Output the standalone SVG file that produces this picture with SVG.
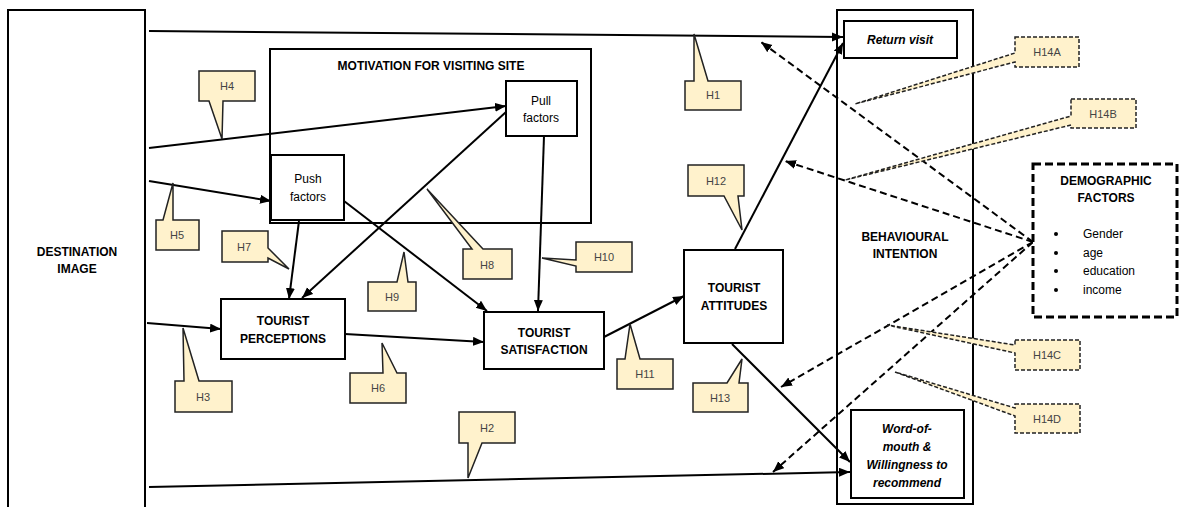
<svg xmlns="http://www.w3.org/2000/svg" width="1180" height="507" viewBox="0 0 1180 507">
  <defs>
    <marker id="arrow" markerUnits="userSpaceOnUse" markerWidth="12" markerHeight="10" refX="11" refY="4.5" orient="auto">
      <path d="M0,0 L11,4.5 L0,9 Z" fill="#000"/>
    </marker>
    <style>
      .box { fill: #fff; stroke: #000; stroke-width: 2; }
      .frame { fill: none; stroke: #000; stroke-width: 2; }
      .lbl { font-family: "Liberation Sans", Arial, sans-serif; font-size: 12px; font-weight: bold; fill: #000; text-anchor: middle; }
      .reg { font-family: "Liberation Sans", Arial, sans-serif; font-size: 12px; fill: #000; text-anchor: middle; }
      .ital { font-family: "Liberation Sans", Arial, sans-serif; font-size: 12px; font-weight: bold; font-style: italic; fill: #000; text-anchor: middle; }
      .link { fill: none; stroke: #000; stroke-width: 2; marker-end: url(#arrow); }
      .dlink { fill: none; stroke: #000; stroke-width: 2; stroke-dasharray: 7 4; marker-end: url(#arrow); }
      .call { fill: #fff2cc; stroke: #222; stroke-width: 1.5; stroke-linejoin: miter; }
      .dcall { fill: #fff2cc; stroke: #222; stroke-width: 1.5; stroke-dasharray: 4 2; }
      .htxt { font-family: "Liberation Sans", Arial, sans-serif; font-size: 11px; fill: #444; text-anchor: middle; }
    </style>
  </defs>
  <rect width="1180" height="507" fill="#fff"/>

  <!-- outer frames -->
  <g id="destination-image">
    <rect class="box" x="8" y="10" width="137" height="510"/>
    <text class="lbl" x="77" y="256">DESTINATION</text>
    <text class="lbl" x="77" y="273">IMAGE</text>
  </g>
  <g id="motivation">
    <rect class="frame" x="270" y="49" width="321" height="174"/>
    <text class="lbl" x="431" y="70">MOTIVATION FOR VISITING SITE</text>
  </g>
  <g id="behavioural-intention">
    <rect class="frame" x="837" y="10" width="136" height="494"/>
    <text class="lbl" x="905" y="241">BEHAVIOURAL</text>
    <text class="lbl" x="905" y="258">INTENTION</text>
  </g>

  <!-- connectors -->
  <g id="connectors">
    <path class="link" d="M149,31 L843,37"/>
    <path class="link" d="M149,148 L506,106"/>
    <path class="link" d="M149,181 L271,201"/>
    <path class="link" d="M147,323 L221,329"/>
    <path class="link" d="M149,487 L850,472"/>
    <path class="link" d="M299,221 L289,299"/>
    <path class="link" d="M506,112 L302,298"/>
    <path class="link" d="M344,201 L487,311"/>
    <path class="link" d="M544,136 L538,311"/>
    <path class="link" d="M345,334 L484,342"/>
    <path class="link" d="M604,337 L684,296"/>
    <path class="link" d="M735,249 L843,43"/>
    <path class="link" d="M732,344 L850,462"/>
    <path class="dlink" d="M1033,242 L761,42"/>
    <path class="dlink" d="M1033,242 L785,161"/>
    <path class="dlink" d="M1033,242 L781,387"/>
    <path class="dlink" d="M1033,242 L773,472"/>
  </g>

  <!-- nodes -->
  <g id="pull-factors">
    <rect class="box" x="506" y="81" width="71" height="55"/>
    <text class="reg" x="541" y="105">Pull</text>
    <text class="reg" x="541" y="122">factors</text>
  </g>
  <g id="push-factors">
    <rect class="box" x="271" y="155" width="73" height="65"/>
    <text class="reg" x="308" y="183">Push</text>
    <text class="reg" x="308" y="201">factors</text>
  </g>
  <g id="tourist-perceptions">
    <rect class="box" x="221" y="299" width="124" height="60"/>
    <text class="lbl" x="283" y="325">TOURIST</text>
    <text class="lbl" x="283" y="343">PERCEPTIONS</text>
  </g>
  <g id="tourist-satisfaction">
    <rect class="box" x="484" y="312" width="120" height="57"/>
    <text class="lbl" x="544" y="337">TOURIST</text>
    <text class="lbl" x="544" y="354">SATISFACTION</text>
  </g>
  <g id="tourist-attitudes">
    <rect class="box" x="684" y="250" width="99" height="93"/>
    <text class="lbl" x="734" y="292">TOURIST</text>
    <text class="lbl" x="734" y="310">ATTITUDES</text>
  </g>
  <g id="return-visit">
    <rect class="box" x="844" y="21" width="113" height="37" stroke-width="2.5"/>
    <text class="ital" x="900" y="44">Return visit</text>
  </g>
  <g id="word-of-mouth">
    <rect class="box" x="851" y="410" width="113" height="88" stroke-width="2.5"/>
    <text class="ital" x="907" y="433">Word-of-</text>
    <text class="ital" x="907" y="451">mouth &amp;</text>
    <text class="ital" x="907" y="469">Willingness to</text>
    <text class="ital" x="907" y="487">recommend</text>
  </g>
  <g id="demographic-factors">
    <rect x="1033" y="164" width="144" height="153" fill="#fff" stroke="#000" stroke-width="3" stroke-dasharray="8 4"/>
    <text class="lbl" x="1106" y="185">DEMOGRAPHIC</text>
    <text class="lbl" x="1106" y="202">FACTORS</text>
    <g fill="#000">
      <circle cx="1056" cy="234" r="2"/>
      <circle cx="1056" cy="253" r="2"/>
      <circle cx="1056" cy="271" r="2"/>
      <circle cx="1056" cy="290" r="2"/>
    </g>
    <g font-family="Liberation Sans, Arial, sans-serif" font-size="12" fill="#000">
      <text x="1083" y="238">Gender</text>
      <text x="1083" y="257">age</text>
      <text x="1083" y="275">education</text>
      <text x="1083" y="294">income</text>
    </g>
  </g>

  <!-- hypothesis callouts -->
  <g id="h1">
    <path class="call" d="M685,81 L694,81 L694,34 L708,81 L741,81 L741,110 L685,110 Z"/>
    <text class="htxt" x="713" y="99">H1</text>
  </g>
  <g id="h2">
    <path class="call" d="M459,412 L515,412 L515,443 L482,443 L468,478 L468,443 L459,443 Z"/>
    <text class="htxt" x="487" y="432">H2</text>
  </g>
  <g id="h3">
    <path class="call" d="M175,381 L184,381 L183,328 L199,381 L232,381 L232,412 L175,412 Z"/>
    <text class="htxt" x="203" y="401">H3</text>
  </g>
  <g id="h4">
    <path class="call" d="M199,71 L255,71 L255,101 L223,101 L222,139 L209,101 L199,101 Z"/>
    <text class="htxt" x="227" y="90">H4</text>
  </g>
  <g id="h5">
    <path class="call" d="M156,220 L163,220 L173,183 L173,220 L199,220 L199,250 L156,250 Z"/>
    <text class="htxt" x="177" y="239">H5</text>
  </g>
  <g id="h6">
    <path class="call" d="M350,373 L383,373 L382,343 L397,373 L406,373 L406,403 L350,403 Z"/>
    <text class="htxt" x="378" y="392">H6</text>
  </g>
  <g id="h7">
    <path class="call" d="M222,231 L268,231 L268,248 L289,269 L268,258 L268,262 L222,262 Z"/>
    <text class="htxt" x="244" y="251">H7</text>
  </g>
  <g id="h8">
    <path class="call" d="M463,249 L472,249 L427,189 L483,249 L512,249 L512,279 L463,279 Z"/>
    <text class="htxt" x="487" y="269">H8</text>
  </g>
  <g id="h9">
    <path class="call" d="M368,282 L397,282 L404,252 L408,282 L416,282 L416,311 L368,311 Z"/>
    <text class="htxt" x="392" y="301">H9</text>
  </g>
  <g id="h10">
    <path class="call" d="M576,242 L632,242 L632,272 L576,272 L576,266 L542,258 L576,260 Z"/>
    <text class="htxt" x="604" y="261">H10</text>
  </g>
  <g id="h11">
    <path class="call" d="M617,359 L625,359 L630,324 L640,359 L673,359 L673,389 L617,389 Z"/>
    <text class="htxt" x="645" y="378">H11</text>
  </g>
  <g id="h12">
    <path class="call" d="M688,165 L744,165 L744,196 L738,196 L742,230 L724,196 L688,196 Z"/>
    <text class="htxt" x="716" y="185">H12</text>
  </g>
  <g id="h13">
    <path class="call" d="M693,383 L727,383 L742,359 L739,383 L748,383 L748,412 L693,412 Z"/>
    <text class="htxt" x="720" y="402">H13</text>
  </g>
  <g id="h14a">
    <path class="dcall" d="M1015,37 L1079,37 L1079,67 L1015,67 L1015,62 L855,104 L1015,53 Z"/>
    <text class="htxt" x="1047" y="56">H14A</text>
  </g>
  <g id="h14b">
    <path class="dcall" d="M1071,99 L1136,99 L1136,128 L1071,128 L1071,125 L845,180 L1071,116 Z"/>
    <text class="htxt" x="1103" y="118">H14B</text>
  </g>
  <g id="h14c">
    <path class="dcall" d="M1015,340 L1080,340 L1080,370 L1015,370 L1015,353 L887,325 L1015,345 Z"/>
    <text class="htxt" x="1047" y="359">H14C</text>
  </g>
  <g id="h14d">
    <path class="dcall" d="M1015,404 L1080,404 L1080,433 L1015,433 L1015,416 L895,372 L1015,408 Z"/>
    <text class="htxt" x="1047" y="423">H14D</text>
  </g>
</svg>
